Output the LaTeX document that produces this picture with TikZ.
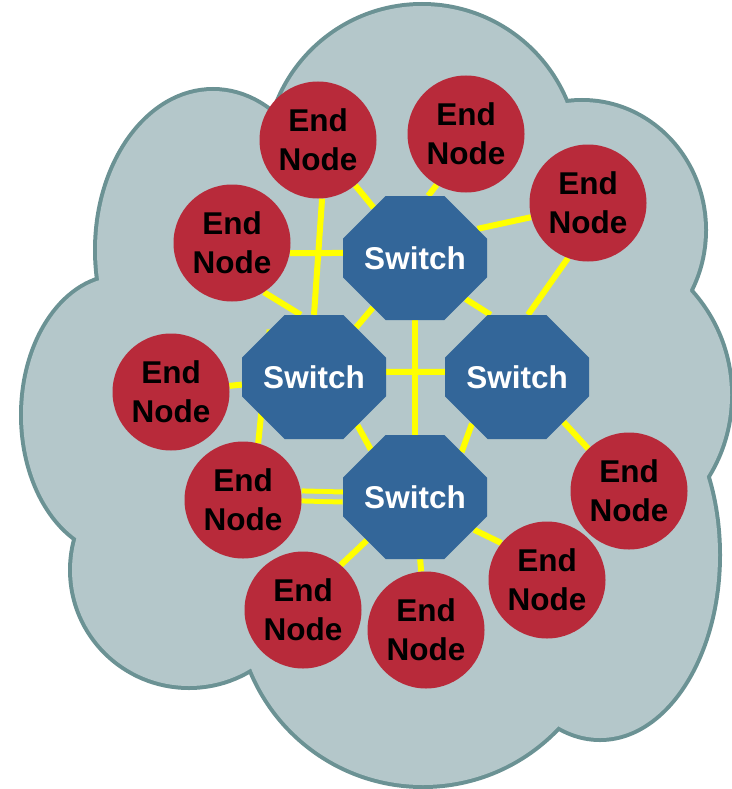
\documentclass[tikz,border=0pt]{standalone}
\usepackage{fontspec}
\setmainfont{Liberation Sans}
\usetikzlibrary{shapes.misc}

\definecolor{cloudfill}{RGB}{180,199,202}
\definecolor{cloudline}{RGB}{107,146,148}
\definecolor{nodered}{RGB}{184,42,58}
\definecolor{switchblue}{RGB}{51,102,153}
\definecolor{linkyellow}{RGB}{255,255,0}

\pgfdeclarelayer{cloud}
\pgfdeclarelayer{links}
\pgfsetlayers{cloud,links,main}

\tikzset{
    endnode/.style={circle, fill=nodered, minimum size=117pt, inner sep=0pt,
        align=center, font=\fontsize{31.5}{39}\selectfont\bfseries},
    switchnode/.style={chamfered rectangle, chamfered rectangle xsep=37pt,
        chamfered rectangle ysep=31pt, fill=switchblue, text=white,
        minimum width=144pt, minimum height=124pt, inner sep=0pt,
        font=\fontsize{31.5}{39}\selectfont\bfseries},
    link/.style={linkyellow, line width=6pt},
    duallink/.style={linkyellow, line width=5pt, double=cloudfill, double distance=5pt},
    cloudrim/.style={draw=cloudline, line width=8pt},
    cloudbody/.style={fill=cloudfill},
}

\begin{document}
\begin{tikzpicture}[x=1pt, y=-1pt]

    \useasboundingbox (0,0) rectangle (731,789);

    %========================
    % Cloud
    %========================
    \begin{pgfonlayer}{cloud}
        % rim of every bump first, body over it
        \foreach \part in {cloudrim, cloudbody} {
            \path[\part] (422,161) circle[radius=155];
            \path[\part] (582,230) ellipse[x radius=122, y radius=128];
            \path[\part] (576,395) circle[radius=154];
            \path[\part] (600,555) ellipse[x radius=118, y radius=183];
            \path[\part] (423,600) circle[radius=185];
            \path[\part] (189,570) ellipse[x radius=117, y radius=116];
            \path[\part] (120,415) ellipse[x radius=97, y radius=138];
            \path[\part] (213,250) ellipse[x radius=116, y radius=159];
        }
        % fill the middle
        \fill[cloudfill] (278,110) -- (566,106) -- (690,290) -- (706,478)
            -- (558,726) -- (253,668) -- (76,538) -- (101,285) -- cycle;
    \end{pgfonlayer}

    %========================
    % Switches
    %========================
    \node[switchnode] (sw-top) at (415,258) {Switch};
    \node[switchnode] (sw-left) at (314,377) {Switch};
    \node[switchnode] (sw-right) at (517,377) {Switch};
    \node[switchnode] (sw-bottom) at (415,497) {Switch};

    %========================
    % End nodes
    %========================
    \node[endnode] (end-1) at (318,140) {End\\Node};
    \node[endnode] (end-2) at (466,134) {End\\Node};
    \node[endnode] (end-3) at (588,203) {End\\Node};
    \node[endnode] (end-4) at (232,243) {End\\Node};
    \node[endnode] (end-5) at (171,392) {End\\Node};
    \node[endnode] (end-6) at (243,500) {End\\Node};
    \node[endnode] (end-7) at (303,610) {End\\Node};
    \node[endnode] (end-8) at (426,630) {End\\Node};
    \node[endnode] (end-9) at (547,580) {End\\Node};
    \node[endnode] (end-10) at (629,491) {End\\Node};

    %========================
    % Links
    %========================
    \begin{pgfonlayer}{links}
        % switch to switch
        \draw[link] (sw-top) -- (sw-left);
        \draw[link] (sw-top.south) -- (sw-bottom.north);
        \draw[link] (sw-left.4) -- (sw-right.176);
        \draw[link] (sw-top.-39) -- (sw-right.113);
        \draw[link] (sw-left.-48) -- (sw-bottom.133);
        \draw[link] (sw-right.-134) -- (sw-bottom.44);

        % end nodes to switches
        \draw[link] (end-1.-86) -- (sw-left.north);
        \draw[link] (end-1) -- (sw-top);
        \draw[link] (end-2.-120) -- (sw-top.78);
        \draw[link] (end-3.-166) -- (sw-top.25);
        \draw[link] (end-3.-110) -- (sw-right.80);
        \draw[link] (end-4.-10) -- (sw-top.176);
        \draw[link] (end-4.-57) -- (sw-left.102);
        \draw[link] (end-5) -- (sw-left);
        \draw[link] (end-6.75) -- (sw-left.133);
        \draw[duallink] (end-6.4) -- (sw-bottom.west);
        \draw[link] (end-7.50) -- (sw-bottom.-138);
        \draw[link] (end-8) -- (sw-bottom);
        \draw[link] (end-9.141) -- (sw-bottom.-29);
        \draw[link] (end-10.134) -- (sw-right.-44);
    \end{pgfonlayer}

\end{tikzpicture}
\end{document}
